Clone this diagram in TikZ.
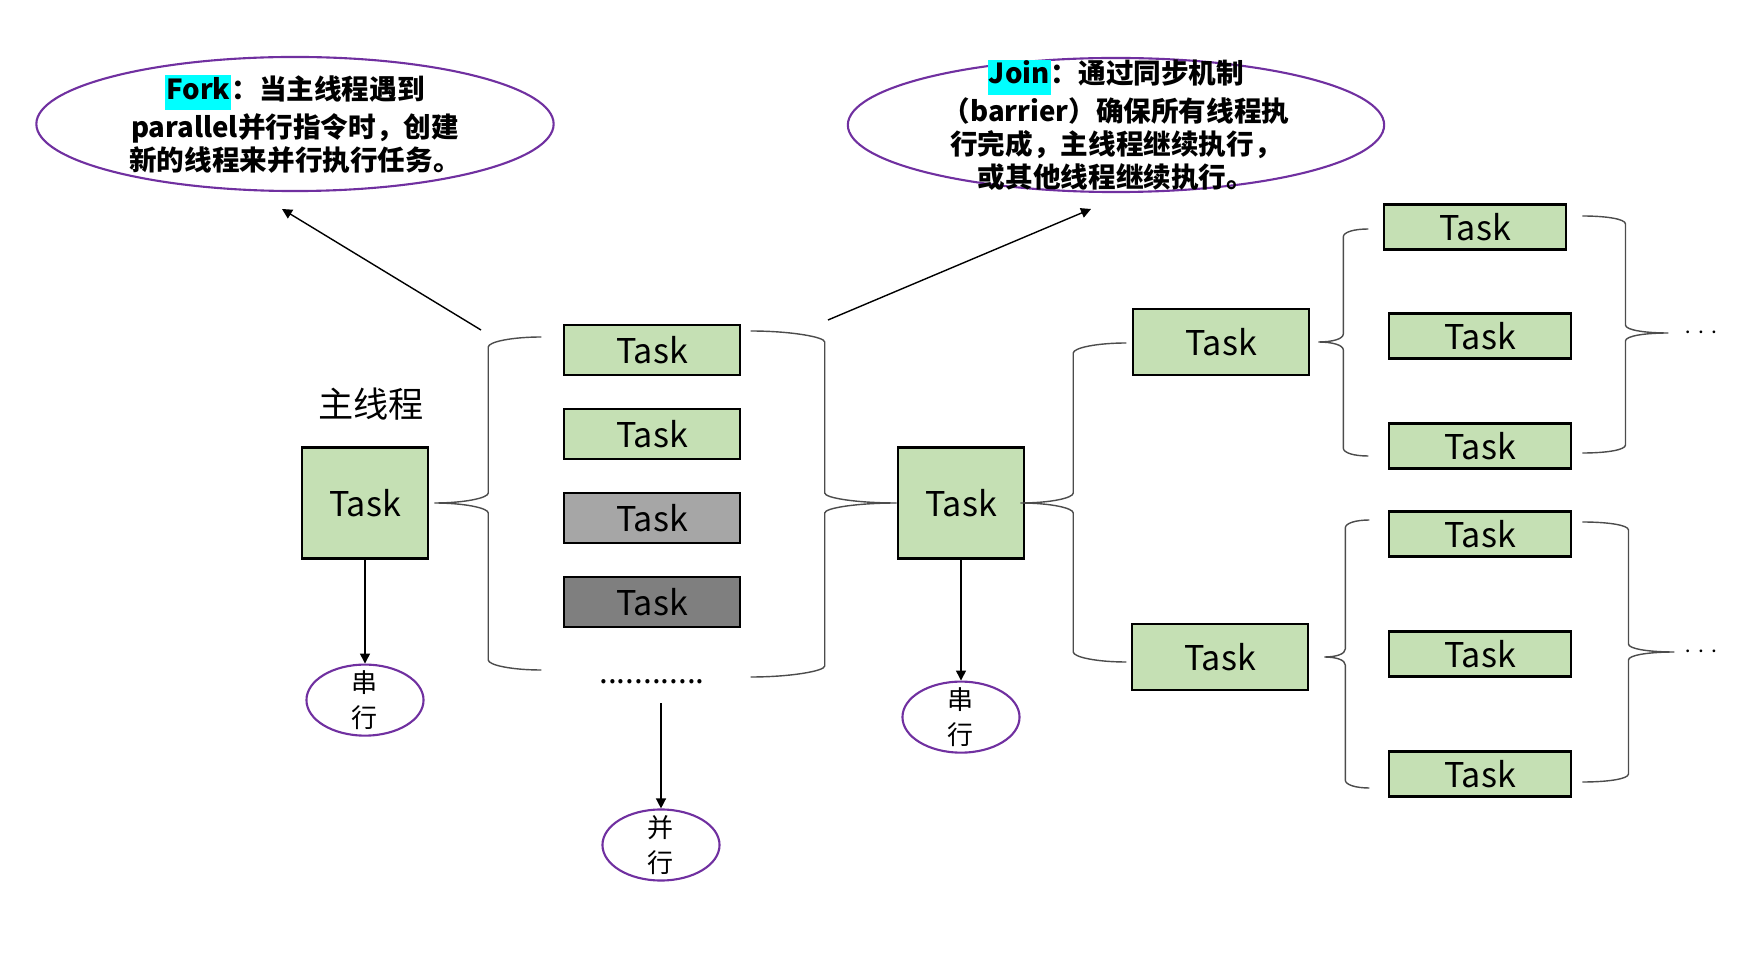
\documentclass[tikz,border=0pt]{standalone}
\usepackage{fontspec}
\setmainfont{Noto Sans CJK SC}
\usetikzlibrary{shapes.geometric, arrows.meta}

\definecolor{taskgreen}{HTML}{C5E0B4}
\definecolor{taskgray}{HTML}{A6A6A6}
\definecolor{taskdark}{HTML}{7F7F7F}
\definecolor{notepurple}{HTML}{7030A0}
\definecolor{hlcyan}{RGB}{0,255,255}

\newcommand{\hilite}[1]{{\setlength{\fboxsep}{0.3pt}\colorbox{hlcyan}{\strut#1}}}

\tikzset{%
  % Specifications for style of nodes:
         task/.style = {rectangle, draw=black, line width=0.7pt, fill=taskgreen, inner sep=0pt, font=\fontsize{9.7}{11}\selectfont},
      bigtask/.style = {task, minimum width=1.26cm, minimum height=1.11cm},
      coltask/.style = {task, minimum width=1.76cm, minimum height=0.50cm},
      subtask/.style = {task, minimum width=1.76cm, minimum height=0.66cm},
     leaftask/.style = {task, minimum width=1.82cm, minimum height=0.45cm},
         note/.style = {ellipse, draw=notepurple, line width=0.6pt, inner sep=-2cm, minimum height=1.34cm, font=\bfseries\fontsize{7.85}{9.3}\selectfont},
         mode/.style = {ellipse, draw=notepurple, line width=0.6pt, minimum width=1.17cm, minimum height=0.71cm, inner sep=-0.2cm, font=\fontsize{7.4}{10}\selectfont},
        trail/.style = {inner sep=0pt, font=\fontsize{7}{8}\selectfont},
  % Specifications for style of braces:
          grp/.style = {draw=black!70, line width=0.4pt},
     tipcurve/.style = {out distance=#1, in distance=0.05cm},
     endcurve/.style = {out distance=0.05cm, in distance=#1},
}

\begin{document}
\begin{tikzpicture}[x=0.01cm, y=0.01cm, node distance=0.84cm, >={Triangle[length=0.1cm, width=0.1cm]}, every node/.style={font=\fontsize{10}{12}\selectfont}, align=center]
    \useasboundingbox (0,0) rectangle (1754,-958);

    % Draw notes
    \node (fork)     [note, minimum width=5.17cm] at (295,-124) {\hilite{Fork}：当主线程遇到\\parallel并行指令时，创建\\新的线程来并行执行任务。};
    \node (join)     [note, minimum width=5.36cm] at (1116,-125) {\hilite{Join}：通过同步机制\\（barrier）确保所有线程执\\行完成，主线程继续执行，\\或其他线程继续执行。};

    % Draw tasks
    \node (main)     [bigtask]                       at (365,-503)  {Task};
    \node (mainname) [above of = main, node distance=0.99cm, xshift=0.06cm] {主线程};
    \node (t1)       [coltask]                       at (652,-350)  {Task};
    \node (t2)       [coltask, below of = t1]                       {Task};
    \node (t3)       [coltask, fill=taskgray, below of = t2]        {Task};
    \node (t4)       [coltask, fill=taskdark, below of = t3]        {Task};
    \node (more)     [below of = t4, node distance=0.8cm, inner sep=0pt, font=\fontsize{9}{11}\selectfont] {............};
    \node (mid)      [bigtask]                       at (961,-503)  {Task};
    \node (up)       [subtask]                       at (1221,-342) {Task};
    \node (low)      [subtask]                       at (1220,-657) {Task};

    \node (la)       [leaftask]                      at (1475,-227) {Task};
    \node (lb)       [leaftask]                      at (1480,-336) {Task};
    \node (lc)       [leaftask, below of = lb, node distance=1.1cm] {Task};
    \node (ld)       [leaftask]                      at (1480,-534) {Task};
    \node (le)       [leaftask, below of = ld, node distance=1.2cm] {Task};
    \node (lf)       [leaftask, below of = le, node distance=1.2cm] {Task};
    \node (more1)    [trail] at (1701,-333) {$\cdots$};
    \node (more2)    [trail] at (1701,-652) {$\cdots$};

    % Draw modes
    \node (serial1)  [mode, below of = main, node distance=1.97cm] {串\\行};
    \node (serial2)  [mode, below of = mid, node distance=2.14cm]  {串\\行};
    \node (para)     [mode]                          at (661,-845)  {并\\行};

    % Draw arrows
    \coordinate (forkfoot) at (481,-330);
    \coordinate (forkhead) at (282,-209);
    \coordinate (joinfoot) at (828,-320);
    \coordinate (joinhead) at (1091,-209);
    \draw[->, line width=0.4pt] (forkfoot) -- (forkhead);
    \draw[->, line width=0.4pt] (joinfoot) -- (joinhead);
    \draw[->, line width=0.4pt] (main) -- (serial1);
    \draw[->, line width=0.4pt] (mid) -- (serial2);
    \draw[->, line width=0.4pt, shorten <=0.18cm] (more.south -| para.north) -- (para.north);

    % Draw braces
    \draw[grp] ([xshift=0.05cm]main.east) to[out=0, in=-90, tipcurve=0.3cm] ++(54,10) -- ++(0,146) to[out=90, in=180, endcurve=0.3cm] ++(53,10)
               ([xshift=0.05cm]main.east) to[out=0, in=90, tipcurve=0.3cm] ++(54,-10) -- ++(0,-147) to[out=-90, in=180, endcurve=0.3cm] ++(53,-10);
    \draw[grp] (mid.west) to[out=180, in=-90, tipcurve=0.4cm] ++(-72,10) -- ++(0,151) to[out=90, in=0, endcurve=0.4cm] ++(-74,11)
               (mid.west) to[out=180, in=90, tipcurve=0.4cm] ++(-72,-10) -- ++(0,-153) to[out=-90, in=0, endcurve=0.4cm] ++(-74,-11);
    \draw[grp] ([xshift=-0.05cm]mid.east) to[out=0, in=-90, tipcurve=0.3cm] ++(53,10) -- ++(0,140) to[out=90, in=180, endcurve=0.3cm] ++(53,10)
               ([xshift=-0.05cm]mid.east) to[out=0, in=90, tipcurve=0.3cm] ++(53,-10) -- ++(0,-139) to[out=-90, in=180, endcurve=0.3cm] ++(53,-10);
    \draw[grp] ([xshift=0.08cm]up.east) to[out=0, in=-90, tipcurve=0.14cm] ++(25,8) -- ++(0,97) to[out=90, in=180, endcurve=0.14cm] ++(25,8)
               ([xshift=0.08cm]up.east) to[out=0, in=90, tipcurve=0.14cm] ++(25,-8) -- ++(0,-98) to[out=-90, in=180, endcurve=0.14cm] ++(25,-8);
    \draw[grp] ([xshift=-0.145cm]more1.west) to[out=180, in=-90, tipcurve=0.24cm] ++(-43,8) -- ++(0,101) to[out=90, in=0, endcurve=0.24cm] ++(-43,8)
               ([xshift=-0.145cm]more1.west) to[out=180, in=90, tipcurve=0.24cm] ++(-43,-8) -- ++(0,-104) to[out=-90, in=0, endcurve=0.24cm] ++(-43,-8);
    \draw[grp] ([xshift=0.15cm]low.east) to[out=0, in=-90, tipcurve=0.12cm] ++(21,8) -- ++(0,121) to[out=90, in=180, endcurve=0.13cm] ++(24,8)
               ([xshift=0.15cm]low.east) to[out=0, in=90, tipcurve=0.12cm] ++(21,-8) -- ++(0,-115) to[out=-90, in=180, endcurve=0.13cm] ++(24,-8);
    \draw[grp] ([xshift=-0.085cm]more2.west) to[out=180, in=-90, tipcurve=0.25cm] ++(-46,8) -- ++(0,114) to[out=90, in=0, endcurve=0.25cm] ++(-46,8)
               ([xshift=-0.085cm]more2.west) to[out=180, in=90, tipcurve=0.25cm] ++(-46,-8) -- ++(0,-114) to[out=-90, in=0, endcurve=0.25cm] ++(-46,-8);

\end{tikzpicture}
\end{document}
